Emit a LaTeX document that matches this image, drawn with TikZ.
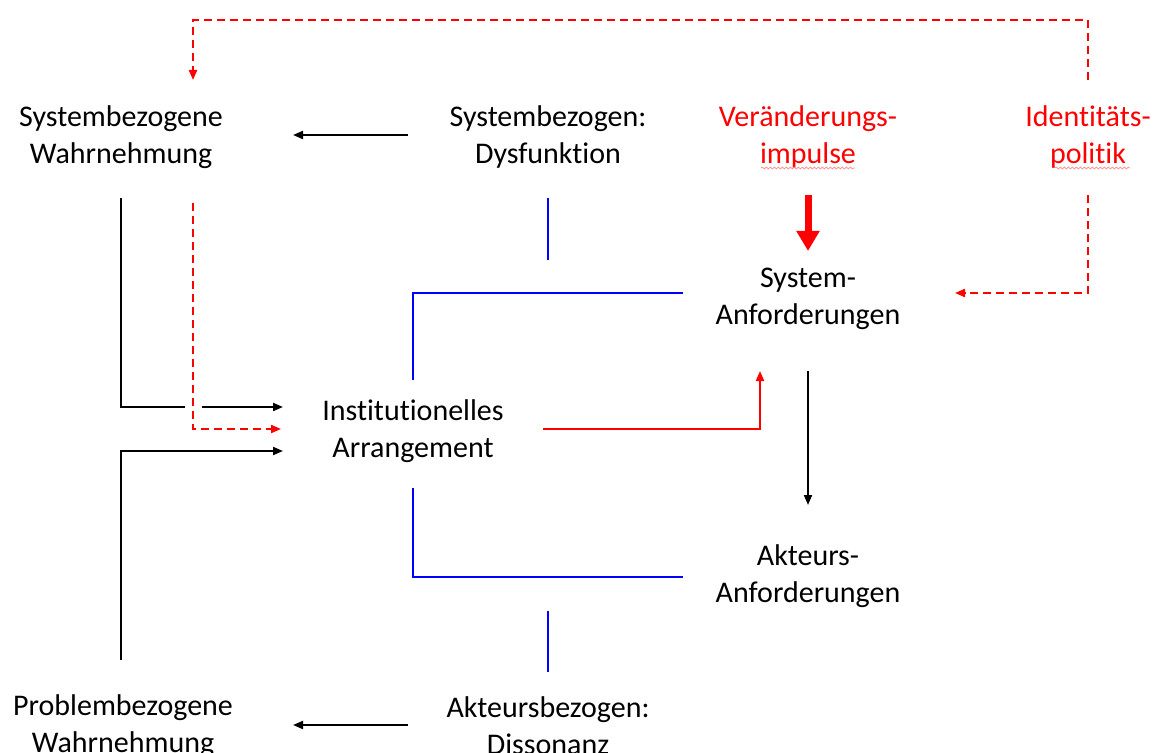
\documentclass[tikz,border=0pt]{standalone}
\usepackage{fontspec}
\setmainfont{Carlito}[Ligatures=NoCommon]
\usetikzlibrary{arrows.meta,decorations.pathmorphing}
\definecolor{rd}{rgb}{1,0,0}
\definecolor{bl}{rgb}{0,0,1}
\tikzset{
  lbl/.style={align=center,inner sep=0pt,font=\fontsize{15}{18.5}\selectfont},
  arr/.style={line width=1pt,-{Triangle[length=5pt,width=4pt]}},
  ln/.style={line width=1pt},
  rdash/.style={rd,line width=1pt,dash pattern=on 4pt off 2.5pt,-{Triangle[length=5pt,width=4pt]}},
  squiggle/.style={rd!45,line width=0.35pt,decorate,decoration={snake,amplitude=0.5pt,segment length=2pt}}
}
\begin{document}
\begin{tikzpicture}[x=0.5pt,y=-0.5pt]
\useasboundingbox (0,0) rectangle (1154,753);
% text nodes
\node [lbl] (sw) at (121,137) {Systembezogene\\Wahrnehmung};
\node [lbl] (sd) at (548,137) {Systembezogen:\\Dysfunktion};
\node [lbl,text=rd] (vi) at (808,137) {Veränderungs-\\impulse};
\node [lbl,text=rd] (ip) at (1088,137) {Identitäts-\\politik};
\node [lbl] (sa) at (808,299) {System-\\Anforderungen};
\node [lbl] (ia) at (413,431) {Institutionelles\\Arrangement};
\node [lbl] (aa) at (808,576) {Akteurs-\\Anforderungen};
\node [lbl] (pw) at (123,726) {Problembezogene\\Wahrnehmung};
\node [lbl] (ad) at (548,726) {Akteursbezogen:\\Dissonanz};
% end points
\coordinate (sdw) at (408,135);	\coordinate (swe) at (293,135);
\coordinate (adw) at (408,725);	\coordinate (pwe) at (293,725);
\coordinate (sws) at (121,198);	\coordinate (swk) at (121,407);	\coordinate (gapa) at (185,407);
\coordinate (gapb) at (202,407);	\coordinate (iaa) at (283,407);
\coordinate (rds) at (193,203);	\coordinate (rdk) at (193,429);	\coordinate (iab) at (281,429);
\coordinate (pwn) at (121,660);	\coordinate (pwk) at (121,451);	\coordinate (iac) at (283,451);
\coordinate (sds) at (548,198);	\coordinate (sdb) at (548,260);
\coordinate (sab) at (683,293);	\coordinate (bk1) at (413,293);	\coordinate (ian) at (413,380);
\coordinate (ias) at (413,488);	\coordinate (bk2) at (413,577);	\coordinate (aab) at (683,577);
\coordinate (adn) at (548,611);	\coordinate (adb) at (548,672);
\coordinate (iae) at (543,429);	\coordinate (rk) at (760,429);	\coordinate (sar) at (760,371);
\coordinate (vis) at (808,195);	\coordinate (san) at (808,251);
\coordinate (sas) at (808,371);	\coordinate (aan) at (808,505);
\coordinate (ipn) at (1088,80);	\coordinate (tk1) at (1088,20);	\coordinate (tk2) at (193,20);	\coordinate (swn) at (193,80);
\coordinate (ips) at (1088,195);	\coordinate (rk2) at (1088,293);	\coordinate (sae) at (955,293);
% connectors
\draw [arr] (sdw) -- (swe);
\draw [arr] (adw) -- (pwe);
\draw [ln] (sws) -- (swk) -- (gapa);	\draw [arr] (gapb) -- (iaa);
\draw [rdash] (rds) -- (rdk) -- (iab);
\draw [arr] (pwn) -- (pwk) -- (iac);
\draw [ln,bl] (sds) -- (sdb);
\draw [ln,bl] (sab) -- (bk1) -- (ian);
\draw [ln,bl] (ias) -- (bk2) -- (aab);
\draw [ln,bl] (adn) -- (adb);
\draw [arr,rd] (iae) -- (rk) -- (sar);
\draw [rd,line width=3.5pt,-{Triangle[length=10pt,width=11pt]}] (vis) -- (san);
\draw [arr] (sas) -- (aan);
\draw [rdash] (ipn) -- (tk1) -- (tk2) -- (swn);
\draw [rdash] (ips) -- (rk2) -- (sae);
% spell check marks
\draw [squiggle] (761,168) -- (855,168);
\draw [squiggle] (1055,168) -- (1130,168);
\end{tikzpicture}
\end{document}
